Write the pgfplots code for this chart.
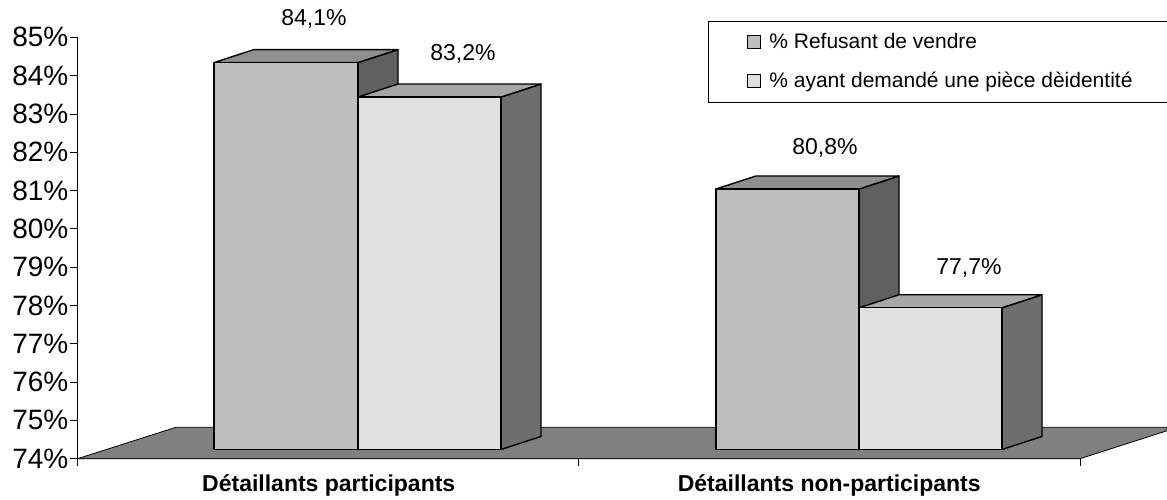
\documentclass[border=0pt]{standalone}
\usepackage{fontspec}
\setmainfont{Liberation Sans}
\usepackage{pgfplots}
\pgfplotsset{compat=1.18}
\definecolor{floorgray}{HTML}{808080}
\definecolor{frontA}{HTML}{BEBEBE}
\definecolor{topA}{HTML}{8F8F8F}
\definecolor{sideA}{HTML}{606060}
\definecolor{frontB}{HTML}{E0E0E0}
\definecolor{topB}{HTML}{A6A6A6}
\definecolor{sideB}{HTML}{6E6E6E}
\pgfplotsset{swatch/.style={legend image code/.code={%
  \path[draw=none,fill=none] (-4pt,0pt) -- (20pt,0pt);
  \draw[##1] (0pt,-6.5pt) rectangle (13pt,6.5pt);}}}
% A box with a front, a top and a side face. Arguments: left, right, value, and the three fills.
\newcommand{\boxbar}[6]{%
  \pgfmathsetmacro\xla{#1+40}%
  \pgfmathsetmacro\xra{#2+40}%
  \pgfmathsetmacro\ylo{74.24}%
  \pgfmathsetmacro\ylob{74.24+0.34}%
  \pgfmathsetmacro\yhi{#3+0.24}%
  \pgfmathsetmacro\yhib{#3+0.24+0.34}%
  \addplot[fill=#6,draw=black,line width=1.4pt,line join=round,forget plot]
    coordinates {(#2,\ylo)(\xra,\ylob)(\xra,\yhib)(#2,\yhi)} --cycle;
  \addplot[fill=#5,draw=black,line width=1.4pt,line join=round,forget plot]
    coordinates {(#1,\yhi)(#2,\yhi)(\xra,\yhib)(\xla,\yhib)} --cycle;
  \addplot[fill=#4,draw=black,line width=1.4pt,line join=round,forget plot]
    coordinates {(#1,\ylo)(#2,\ylo)(#2,\yhi)(#1,\yhi)} --cycle;
}
\begin{document}
\begin{tikzpicture}[x=1pt,y=1pt]
\path[use as bounding box] (0,0) rectangle (1167,499);
\begin{axis}[
  at={(77.5pt,40.3pt)}, anchor=origin,
  scale only axis, width=1002.5pt, height=421.4pt,
  xmin=77.5, xmax=1080, ymin=74, ymax=85,
  clip=false,
  axis x line=bottom, axis y line=left,
  axis line style={-, black, line width=0.8pt},
  tick style={black, line width=0.8pt},
  tick align=outside,
  ytick={74,...,85},
  yticklabel={\pgfmathprintnumber{\tick}\%},
  /pgf/number format/assume math mode=true,
  yticklabel style={font=\fontsize{28}{30}\selectfont, inner sep=0pt, xshift=-2pt, anchor=east},
  major tick length=7pt,
  minor tick length=7pt,
  xtick={328.75,829.25},
  xticklabels={Détaillants participants,Détaillants non-participants},
  xticklabel style={font=\fontsize{23}{25}\bfseries\selectfont, yshift=-5pt},
  major x tick style={draw=none},
  minor xtick={77.5,578,1080},
  legend style={
    at={(axis cs:708,85.43)}, anchor=north west,
    draw=black, line width=0.8pt, fill=white,
    font=\fontsize{21}{24}\selectfont,
    inner xsep=35pt, inner ysep=10.5pt, row sep=18pt,
  },
  legend cell align=left,
]
% Floor of the plot, below the boxes
\addplot[fill=floorgray,draw=black,line width=0.8pt,forget plot]
  coordinates {(77.5,74)(176,74.82)(1167,74.82)(1167,74.73)(1080,74)} --cycle;

\boxbar{214}{358}{84.1}{frontA}{topA}{sideA}
\boxbar{358}{501}{83.2}{frontB}{topB}{sideB}
\boxbar{716}{859}{80.8}{frontA}{topA}{sideA}
\boxbar{859}{1002}{77.7}{frontB}{topB}{sideB}

\addlegendimage{swatch,fill=frontA,draw=black,line width=0.9pt}
\addlegendentry{\% Refusant de vendre}
\addlegendimage{swatch,fill=frontB,draw=black,line width=0.9pt}
\addlegendentry{\% ayant demandé une pièce dèidentité}

\node[font=\fontsize{23}{25}\selectfont] at (axis cs:314,85.47) {84,1\%};
\node[font=\fontsize{23}{25}\selectfont] at (axis cs:463,84.57) {83,2\%};
\node[font=\fontsize{23}{25}\selectfont] at (axis cs:825,82.11) {80,8\%};
\node[font=\fontsize{23}{25}\selectfont] at (axis cs:969,78.97) {77,7\%};
\end{axis}
\end{tikzpicture}
\end{document}
